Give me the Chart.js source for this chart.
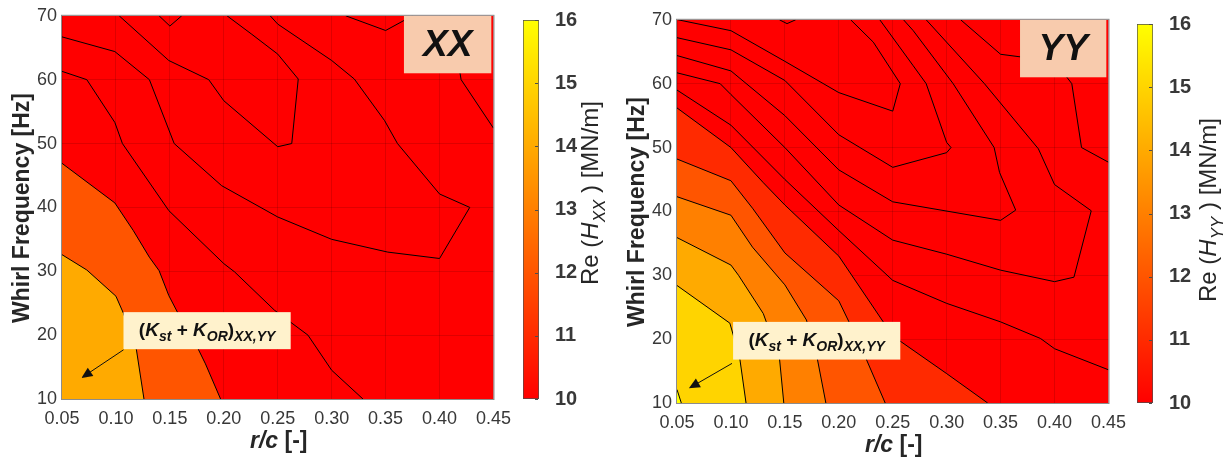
<!DOCTYPE html>
<html>
<head>
<meta charset="utf-8">
<title>Re(H) contour maps</title>
<script src="https://cdn.jsdelivr.net/npm/chart.js@4.4.1/dist/chart.umd.min.js"></script>
<style>
  html, body { margin: 0; padding: 0; background: #fff; }
  body { position: relative; width: 1229px; height: 459px; overflow: hidden; }
  canvas { position: absolute; }
</style>
</head>
<body>
<canvas id="mapXX" width="520" height="459" style="left:0;top:0"></canvas>
<canvas id="barXX" width="100" height="459" style="left:515px;top:0"></canvas>
<canvas id="mapYY" width="520" height="459" style="left:615px;top:4px"></canvas>
<canvas id="barYY" width="100" height="459" style="left:1129px;top:4px"></canvas>
<script>
// axes
const rcTicks = [0.05, 0.10, 0.15, 0.20, 0.25, 0.30, 0.35, 0.40, 0.45];
const freqTicks = [10, 20, 30, 40, 50, 60, 70];
const reTicks = [10, 11, 12, 13, 14, 15, 16];

// XX contour lines, [r/c, whirl freq]
const xx14 = [[0.05, 32.6], [0.073, 30.2], [0.10, 26.1], [0.107, 23.4], [0.119, 17.7], [0.126, 10]];
const xx12 = [[0.05, 46.9], [0.099, 40.7], [0.116, 36.4], [0.131, 32.2], [0.14, 30.1], [0.149, 26.2],
  [0.161, 22.3], [0.174, 18.6], [0.183, 15.5], [0.197, 10]];
const xx10 = [[0.05, 61.3], [0.073, 60.0], [0.099, 53.3], [0.106, 50.0], [0.149, 39.5], [0.20, 31.2],
  [0.21, 29.9], [0.247, 23.9], [0.278, 20.0], [0.30, 14.5], [0.329, 10]];
const xx8 = [[0.05, 66.7], [0.099, 64.4], [0.131, 60.0], [0.154, 50.0], [0.198, 43.4], [0.25, 38.5],
  [0.30, 35.0], [0.352, 33.0], [0.40, 32.0], [0.428, 40.0], [0.40, 42.1], [0.361, 50.0], [0.349, 53.6],
  [0.321, 60.1], [0.30, 63.0], [0.25, 68.7], [0.243, 70]];
const xx6 = [[0.103, 70], [0.149, 63.0], [0.186, 60.0], [0.20, 56.7], [0.25, 49.5], [0.263, 50.0],
  [0.269, 60.1], [0.25, 64.0], [0.226, 67.1], [0.203, 70]];
const xx4 = [[0.14, 70], [0.15, 68.4], [0.161, 70]];
const xxTopA = [[0.313, 70], [0.35, 67.7], [0.375, 70]];
const xxTopB = [[0.41, 70], [0.42, 60.0], [0.45, 52.4]];

// YY contour lines
const yy15 = [[0.05, 12.1], [0.054, 10]];
const yy14 = [[0.05, 28.4], [0.099, 22.5], [0.108, 17.2], [0.114, 10]];
const yy13 = [[0.05, 35.9], [0.10, 31.6], [0.107, 30.0], [0.13, 24.0], [0.145, 17.0], [0.149, 10]];
const yy12 = [[0.05, 42.3], [0.10, 39.4], [0.12, 34.4], [0.15, 28.5], [0.17, 23.0], [0.18, 17.0], [0.188, 10]];
const yy11 = [[0.05, 48.2], [0.10, 44.8], [0.12, 40.5], [0.15, 33.5], [0.20, 26.0], [0.22, 19.0], [0.243, 10]];
const yy10 = [[0.05, 56.2], [0.10, 50.0], [0.13, 44.5], [0.15, 41.0], [0.20, 33.0], [0.25, 20.5],
  [0.30, 14.6], [0.338, 10]];
const yy9 = [[0.05, 59.0], [0.10, 53.5], [0.15, 45.0], [0.20, 37.0], [0.25, 29.2], [0.30, 25.6],
  [0.35, 22.7], [0.387, 20.1], [0.40, 18.5], [0.45, 15.2]];
const yy8 = [[0.05, 61.7], [0.09, 60.0], [0.10, 58.3], [0.15, 50.0], [0.20, 41.0], [0.25, 35.5],
  [0.30, 33.3], [0.35, 30.8], [0.40, 29.0], [0.418, 29.7], [0.434, 40.1], [0.40, 44.2], [0.385, 49.8],
  [0.335, 60.0], [0.281, 70]];
const yy7 = [[0.05, 64.4], [0.10, 62.0], [0.15, 55.0], [0.20, 46.5], [0.25, 41.5], [0.35, 38.6],
  [0.364, 40.2], [0.349, 46.1], [0.344, 50.0], [0.306, 60.0], [0.269, 68.3], [0.26, 70]];
const yy6 = [[0.05, 67.2], [0.10, 65.3], [0.15, 60.5], [0.20, 52.0], [0.25, 46.9], [0.30, 49.2],
  [0.304, 50.0], [0.30, 50.8], [0.281, 60.0], [0.269, 62.8], [0.238, 70]];
const yy5 = [[0.051, 70], [0.10, 68.3], [0.15, 63.5], [0.20, 58.6], [0.25, 55.7], [0.257, 60.0],
  [0.232, 66.5], [0.211, 70]];
const yy4 = [[0.145, 70], [0.152, 69.4], [0.16, 70]];
const yyTop = [[0.313, 70], [0.35, 64.6], [0.40, 63.5], [0.416, 60.0], [0.425, 50.0], [0.45, 47.7]];

// band colours (autumn map, 10..16)
const band = { 10: '#ff0000', 11: '#ff2a00', 12: '#ff5500', 13: '#ff8000', 14: '#ffaa00', 15: '#ffd400', 16: '#ffff00' };

const FONT = "'Liberation Sans', Arial, Helvetica, sans-serif";
const TICK = '#383838';
const GRID = 'rgba(0,0,0,0.13)';
Chart.defaults.font.family = FONT;

function line(points, fillColor, order) {
  return {
    data: points.map(p => ({ x: p[0], y: p[1] })),
    borderColor: '#000',
    borderWidth: 1,
    pointRadius: 0,
    tension: 0,
    fill: fillColor ? 'start' : false,
    backgroundColor: fillColor || 'rgba(0,0,0,0)',
    order: order
  };
}

// mixed-style text: runs of {t, i (italic), s (subscript)}
function fontOf(r, size, bold) {
  const px = r.s ? Math.round(size * 0.72) : size;
  return (r.i ? 'italic ' : '') + (bold ? 'bold ' : '') + px + 'px ' + FONT;
}
function runsWidth(ctx, runs, size, bold) {
  let w = 0;
  runs.forEach(r => { ctx.font = fontOf(r, size, bold); w += ctx.measureText(r.t).width; });
  return w;
}
function drawRuns(ctx, runs, x, y, size, bold) {
  ctx.textBaseline = 'alphabetic';
  ctx.textAlign = 'left';
  runs.forEach(r => {
    ctx.font = fontOf(r, size, bold);
    ctx.fillText(r.t, x, r.s ? y + size * 0.28 : y);
    x += ctx.measureText(r.t).width;
  });
}

const xTitle = [{ t: 'r/c', i: true }, { t: ' [-]' }];
const yTitle = [{ t: 'Whirl Frequency [Hz]' }];
const noteText = [{ t: '(' }, { t: 'K', i: true }, { t: 'st', i: true, s: true }, { t: ' + ' },
  { t: 'K', i: true }, { t: 'OR', i: true, s: true }, { t: ')' }, { t: 'XX,YY', i: true, s: true }];

const mapDecor = {
  id: 'mapDecor',
  beforeDraw(chart, args, o) {
    const { ctx, chartArea: a } = chart;
    ctx.save();
    ctx.fillStyle = band[10];
    ctx.fillRect(a.left, a.top, a.width, a.height);
    ctx.restore();
  },
  afterDraw(chart, args, o) {
    const { ctx, chartArea: a, scales: { x, y } } = chart;
    ctx.save();
    // tag box
    const t = o.tag;
    const tx0 = x.getPixelForValue(t.box[0]), tx1 = x.getPixelForValue(t.box[1]);
    const ty0 = y.getPixelForValue(t.box[2]), ty1 = y.getPixelForValue(t.box[3]);
    ctx.fillStyle = '#f8cbad';
    ctx.fillRect(tx0, ty1, tx1 - tx0, ty0 - ty1);
    ctx.fillStyle = '#111';
    ctx.font = 'italic bold 37px ' + FONT;
    ctx.textAlign = 'center';
    ctx.textBaseline = 'middle';
    ctx.fillText(t.text, (tx0 + tx1) / 2, (ty0 + ty1) / 2 + 1);

    // note box + arrow
    const n = o.note;
    const nx0 = x.getPixelForValue(n.box[0]), nx1 = x.getPixelForValue(n.box[1]);
    const ny0 = y.getPixelForValue(n.box[2]), ny1 = y.getPixelForValue(n.box[3]);
    ctx.fillStyle = '#fff2cc';
    ctx.fillRect(nx0, ny1, nx1 - nx0, ny0 - ny1);
    ctx.fillStyle = '#111';
    const w = runsWidth(ctx, noteText, 19, true);
    drawRuns(ctx, noteText, (nx0 + nx1) / 2 - w / 2, (ny0 + ny1) / 2 + 5, 19, true);
    const ax0 = x.getPixelForValue(n.tail[0]), ay0 = y.getPixelForValue(n.tail[1]);
    const ax1 = x.getPixelForValue(n.head[0]), ay1 = y.getPixelForValue(n.head[1]);
    const ang = Math.atan2(ay1 - ay0, ax1 - ax0);
    ctx.strokeStyle = '#111';
    ctx.lineWidth = 1;
    ctx.beginPath();
    ctx.moveTo(ax0, ay0);
    ctx.lineTo(ax1 - 8 * Math.cos(ang), ay1 - 8 * Math.sin(ang));
    ctx.stroke();
    ctx.beginPath();
    ctx.moveTo(ax1, ay1);
    ctx.lineTo(ax1 - 11 * Math.cos(ang) + 5 * Math.sin(ang), ay1 - 11 * Math.sin(ang) - 5 * Math.cos(ang));
    ctx.lineTo(ax1 - 11 * Math.cos(ang) - 5 * Math.sin(ang), ay1 - 11 * Math.sin(ang) + 5 * Math.cos(ang));
    ctx.closePath();
    ctx.fill();

    // frame
    ctx.strokeStyle = '#8c8c8c';
    ctx.lineWidth = 1;
    ctx.strokeRect(a.left - 0.5, a.top - 0.5, a.width + 1, a.height + 1);

    // axis titles
    ctx.fillStyle = '#262626';
    const xw = runsWidth(ctx, xTitle, 23, true);
    drawRuns(ctx, xTitle, (a.left + a.right) / 2 + 1 - xw / 2, 448, 23, true);
    ctx.translate(29, 208);
    ctx.rotate(-Math.PI / 2);
    const yw = runsWidth(ctx, yTitle, 23, true);
    drawRuns(ctx, yTitle, -yw / 2, 0, 23, true);
    ctx.restore();
  }
};

function makeMap(id, sets, tag, note) {
  return new Chart(document.getElementById(id), {
    type: 'line',
    data: { datasets: sets },
    options: {
      responsive: false,
      animation: false,
      events: [],
      layout: { padding: { top: 15, right: 23, left: 0, bottom: 0 } },
      plugins: {
        legend: { display: false },
        tooltip: { enabled: false },
        mapDecor: { tag: tag, note: note }
      },
      scales: {
        x: {
          type: 'linear',
          min: rcTicks[0],
          max: rcTicks[rcTicks.length - 1],
          z: 1,
          afterFit: s => { s.height = 60; },
          afterBuildTicks: s => { s.ticks = rcTicks.map(v => ({ value: v })); },
          ticks: { padding: 9, color: TICK, font: { size: 18 }, maxRotation: 0, autoSkip: false,
            callback: v => Number(v).toFixed(2) },
          grid: { color: GRID, drawTicks: false },
          border: { display: false }
        },
        y: {
          type: 'linear',
          min: freqTicks[0],
          max: freqTicks[freqTicks.length - 1],
          z: 1,
          afterFit: s => { s.width = 62; },
          afterBuildTicks: s => { s.ticks = freqTicks.map(v => ({ value: v })); },
          ticks: { padding: 5, color: TICK, font: { size: 18 } },
          grid: { color: GRID, drawTicks: false },
          border: { display: false }
        }
      }
    },
    plugins: [mapDecor]
  });
}

makeMap('mapXX', [
  line(xx14, band[14], 1),
  line(xx12, band[12], 2),
  line(xx10, null, 3),
  line(xx8, null, 3),
  line(xx6, null, 3),
  line(xx4, null, 3),
  line(xxTopA, null, 3),
  line(xxTopB, null, 3)
], { text: 'XX', box: [0.367, 0.448, 61.0, 70] },
   { box: [0.107, 0.262, 17.8, 23.6], tail: [0.107, 17.7], head: [0.068, 13.3] });

makeMap('mapYY', [
  line(yy15, band[16], 1),
  line(yy14, band[15], 2),
  line(yy13, band[14], 3),
  line(yy12, band[13], 4),
  line(yy11, band[12], 5),
  line(yy10, band[11], 6),
  line(yy9, null, 7),
  line(yy8, null, 7),
  line(yy7, null, 7),
  line(yy6, null, 7),
  line(yy5, null, 7),
  line(yy4, null, 7),
  line(yyTop, null, 7)
], { text: 'YY', box: [0.368, 0.448, 61.0, 70] },
   { box: [0.102, 0.257, 16.8, 22.7], tail: [0.101, 16.2], head: [0.061, 12.3] });

// colour bars
function autumn(ctx) {
  const a = ctx.chart.chartArea;
  if (!a) return band[10];
  const g = ctx.chart.ctx.createLinearGradient(0, a.bottom, 0, a.top);
  g.addColorStop(0, band[10]);
  g.addColorStop(1, band[16]);
  return g;
}

const barDecor = {
  id: 'barDecor',
  afterDraw(chart, args, o) {
    const { ctx, chartArea: a, scales: { y } } = chart;
    ctx.save();
    ctx.strokeStyle = '#4d4d4d';
    ctx.lineWidth = 1;
    reTicks.forEach(v => {
      const py = Math.round(y.getPixelForValue(v)) + 0.5;
      ctx.beginPath();
      ctx.moveTo(a.right - 1, py);
      ctx.lineTo(a.right - 4, py);
      ctx.stroke();
    });
    const runs = [{ t: 'Re (' }, { t: 'H', i: true }, { t: o.sub, i: true, s: true }, { t: ' ) [MN/m]' }];
    ctx.fillStyle = '#262626';
    ctx.translate(o.x, o.cy);
    ctx.rotate(-Math.PI / 2);
    const w = runsWidth(ctx, runs, 24, false);
    drawRuns(ctx, runs, -w / 2, 0, 24, false);
    ctx.restore();
  }
};

function makeBar(id, sub, lx, lcy) {
  return new Chart(document.getElementById(id), {
    type: 'bar',
    data: {
      labels: [''],
      datasets: [{
        data: [[reTicks[0], reTicks[reTicks.length - 1]]],
        backgroundColor: autumn,
        borderColor: '#4d4d4d',
        borderWidth: 1,
        borderSkipped: false,
        barPercentage: 1,
        categoryPercentage: 1
      }]
    },
    options: {
      responsive: false,
      animation: false,
      events: [],
      layout: { padding: { left: 8, top: 15, bottom: 60, right: 0 } },
      plugins: {
        legend: { display: false },
        tooltip: { enabled: false },
        barDecor: { sub: sub, x: lx, cy: lcy }
      },
      scales: {
        x: { display: false },
        y: {
          position: 'right',
          min: reTicks[0],
          max: reTicks[reTicks.length - 1],
          afterFit: s => { s.width = 76; },
          afterBuildTicks: s => { s.ticks = reTicks.map(v => ({ value: v })); },
          ticks: { padding: 8, color: TICK, font: { size: 20, weight: 'bold' } },
          grid: { display: false },
          border: { display: false }
        }
      }
    },
    plugins: [barDecor]
  });
}

makeBar('barXX', 'XX', 83, 193);
makeBar('barYY', 'YY', 87, 206);
</script>
</body>
</html>
